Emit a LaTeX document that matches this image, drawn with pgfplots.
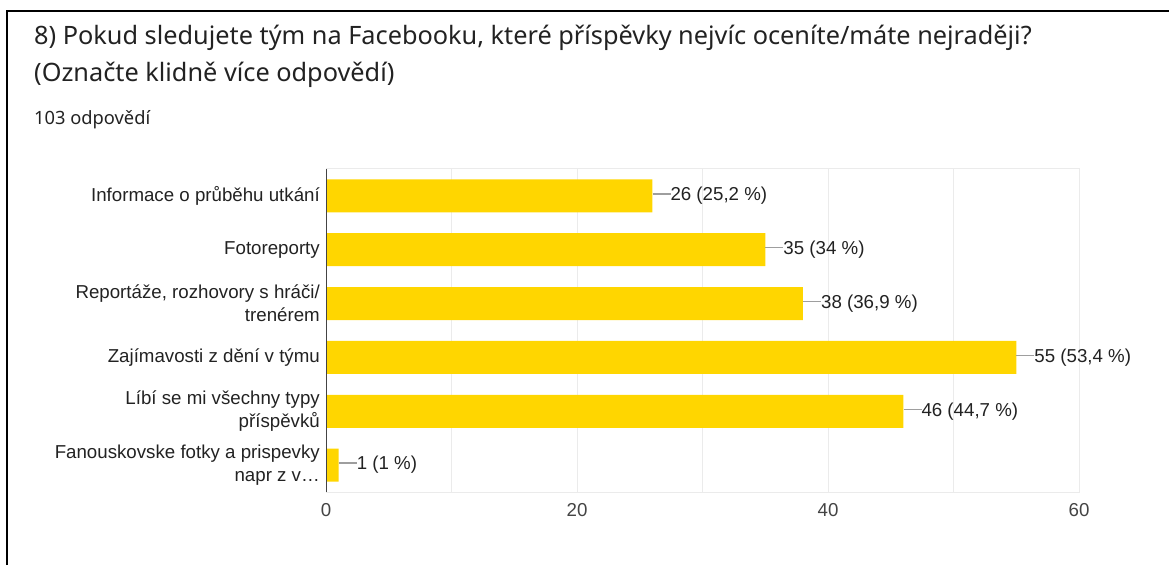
\documentclass[border=0pt]{standalone}
\usepackage{pgfplots}
\pgfplotsset{compat=1.18}
\usepackage{fontspec}
\setmainfont{Liberation Sans}
\newfontfamily\titlefont{Noto Sans}
\definecolor{barY}{HTML}{FFD600}
\definecolor{txt}{HTML}{222222}
\definecolor{tick}{HTML}{444444}
\definecolor{gridc}{HTML}{EBEBEB}
\definecolor{lead}{HTML}{9E9E9E}
\newcommand{\leader}{\textcolor{lead}{\rule[0.33em]{18pt}{1.4pt}}}
\begin{document}
\begin{tikzpicture}[x=1pt,y=1pt]
\path[use as bounding box] (0,0) rectangle (1169,565);
\draw[line width=2.6pt,black] (7,0) -- (7,554) -- (1169,554);
\node[anchor=base west,inner sep=0pt,text=txt,font=\titlefont\fontsize{25.3}{30}\selectfont] at (34,520) {8) Pokud sledujete tým na Facebooku, které příspěvky nejvíc oceníte/máte nejraději?};
\node[anchor=base west,inner sep=0pt,text=txt,font=\titlefont\fontsize{25.3}{30}\selectfont] at (34,483) {(Označte klidně více odpovědí)};
\node[anchor=base west,inner sep=0pt,text=txt,font=\titlefont\fontsize{18.3}{22}\selectfont] at (34,440) {103 odpovědí};
\begin{axis}[
  at={(326pt,73pt)}, anchor=south west,
  width=753pt, height=323pt, scale only axis,
  xbar, bar width=33pt,
  xmin=0, xmax=60, ymin=-0.5, ymax=5.5,
  xtick={0,20,40,60}, minor xtick={10,30,50},
  ytick={0,1,2,3,4,5},
  yticklabels={{Fanouskovske fotky a prispevky\\napr z v…},{Líbí se mi všechny typy\\příspěvků},Zajímavosti z dění v týmu,{Reportáže, rozhovory s hráči/\\trenérem},Fotoreporty,Informace o průběhu utkání},
  major tick length=0pt, minor tick length=0pt,
  xmajorgrids=true, xminorgrids=true, ymajorgrids=false,
  major grid style={gridc, line width=1pt},
  minor grid style={gridc, line width=1pt},
  axis line style={gridc, line width=1pt},
  yticklabel style={align=right, text=txt, font=\fontsize{18.7}{23}\selectfont, inner sep=0pt, xshift=-6pt},
  xticklabel style={text=tick, font=\fontsize{18.7}{22}\selectfont, yshift=-8pt},
  /pgf/number format/assume math mode=true,
  nodes near coords={\leader\pgfplotspointmeta},
  point meta=explicit symbolic,
  nodes near coords style={anchor=west, inner sep=0pt, text=txt, font=\fontsize{18.7}{22}\selectfont},
]
\addplot[fill=barY, draw=none] coordinates {
 (26,5) [26 (25,2 \%)]
 (35,4) [35 (34 \%)]
 (38,3) [38 (36,9 \%)]
 (55,2) [55 (53,4 \%)]
 (46,1) [46 (44,7 \%)]
 (1,0) [1 (1 \%)]
};
\draw[color=tick, line width=1.3pt] (axis cs:0,-0.5) -- (axis cs:0,5.5);
\end{axis}
\end{tikzpicture}
\end{document}
